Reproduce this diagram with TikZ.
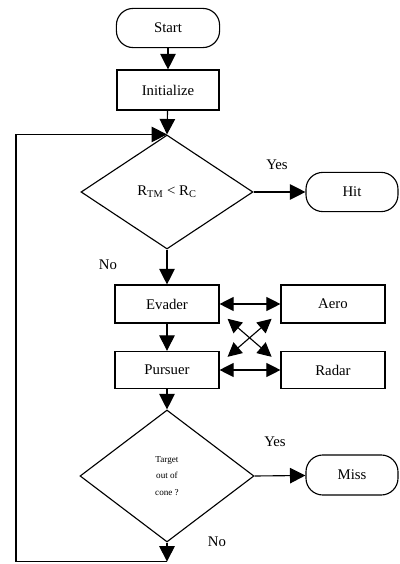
\documentclass[tikz,border=0pt]{standalone}
\usepackage{fontspec}
\setmainfont{Liberation Serif}
\usepackage{tikz}
\usetikzlibrary{positioning, arrows.meta, shapes.geometric, calc}

\begin{document}
\begin{tikzpicture}[
    font=\fontsize{10.5}{12}\selectfont,
    line width=0.8pt,
    flow/.style={-{Triangle[length=11pt, width=11pt]}},
    both/.style={{Triangle[length=10pt, width=10pt]}-{Triangle[length=10pt, width=10pt]}},
    term/.style={draw, rounded corners=0.42cm, minimum width=2.3cm, minimum height=0.98cm},
    block/.style={draw, minimum width=2.6cm, minimum height=0.95cm},
    decision/.style={draw, diamond, inner sep=0pt}
  ]
    \useasboundingbox (0,0) rectangle (10,14.1);
    % Main column
    \node [term, minimum width=2.58cm] (start) at (4.2,13.4) {Start};
    \node [block, minimum width=2.55cm, minimum height=1cm] (init) at (4.2,11.85) {Initialize};
    \node [decision, minimum width=4.3cm, minimum height=2.85cm] (hitTest) at (4.175,9.3) {R$_{\mathrm{TM}}$ < R$_{\mathrm{C}}$};
    \node [term] (hit) at (8.8,9.3) {Hit};
    \node [block] (evader) at (4.175,6.5) {Evader};
    \node [block] (aero) at (8.325,6.5) {Aero};
    \node [block, minimum height=0.93cm] (pursuer) at (4.175,4.85) {Pursuer};
    \node [block, minimum height=0.93cm] (radar) at (8.325,4.85) {Radar};
    \node [decision, minimum width=4.35cm, minimum height=3.3cm, align=center, font=\fontsize{6.5}{12}\selectfont] (coneTest) at (4.175,2.2) {Target\\out of\\cone ?};
    \node [term, minimum height=1cm] (miss) at (8.8,2.225) {Miss};
    % Labels
    \node (yesHit) at (6.925,9.975) {Yes};
    \node (noHit) at (2.7,7.475) {No};
    \node (yesMiss) at (6.875,3.05) {Yes};
    \node (noMiss) at (5.425,0.55) {No};
    % Flow
    \draw [flow] (start) -- (init);
    \draw [flow] (init) -- (hitTest.north);
    \draw [flow] (hitTest.east) -- (hit);
    \draw [flow] (hitTest.south) -- (evader);
    \draw [flow] (evader) -- (pursuer);
    \draw [flow] (pursuer) -- (coneTest.north);
    \draw [flow] (coneTest.east) -- (miss);
    % Model links
    \draw [both] (evader) -- (aero);
    \draw [both] (pursuer) -- (radar);
    \draw [both] ([shift={(0.2,0.12)}]evader.south east) -- ([shift={(-0.22,-0.15)}]radar.north west);
    \draw [both] ([shift={(0.2,-0.15)}]pursuer.north east) -- ([shift={(-0.22,0.12)}]aero.south west);
    % Loop back
    \coordinate (loopB) at (4.175,0.06);
    \coordinate (loopL) at (0.4,0.06);
    \draw [flow] (coneTest.south) -- (loopB);
    \draw (loopB) -- (loopL);
    \draw [flow] (loopL) |- (hitTest.north);
\end{tikzpicture}
\end{document}
